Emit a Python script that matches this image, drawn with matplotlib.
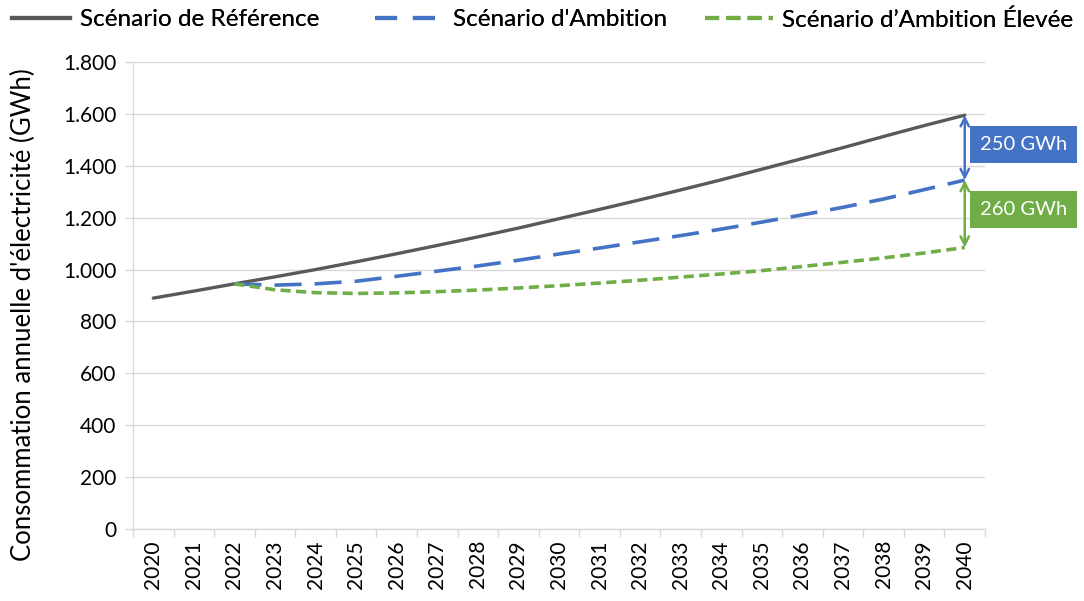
import numpy as np
import matplotlib
matplotlib.use("Agg")
from matplotlib import pyplot as plt
from matplotlib.lines import Line2D
from matplotlib.ticker import FuncFormatter, FixedLocator

years = [str(y) for y in range(2020, 2041)]

reference = [890, 917, 945, 972, 1000, 1030, 1061, 1093, 1126, 1160, 1196,
             1232, 1269, 1307, 1346, 1387, 1428, 1470, 1513, 1555, 1595]
# ambition scenarios branch off from the reference in 2022
ambition = [None, None, 945, 940, 945, 955, 974, 994, 1014, 1036, 1060,
            1083, 1107, 1131, 1156, 1183, 1211, 1240, 1272, 1308, 1345]
high_ambition = [None, None, 945, 922, 911, 908, 910, 915, 921, 929, 938,
                 948, 959, 971, 983, 996, 1012, 1028, 1045, 1064, 1085]

series_labels = ["Scénario de Référence", "Scénario d'Ambition",
                 "Scénario d\u2019Ambition Élevée"]
gap_labels = ["250 GWh", "260 GWh"]

GREY = "#595959"
BLUE = "#4472C4"
GREEN = "#70AD47"
GRID = "#D9D9D9"

plt.rcParams["font.family"] = ["Lato", "DejaVu Sans"]


def to_array(values):
    return np.array([np.nan if v is None else v for v in values], dtype=float)


fig = plt.figure(figsize=(10.84, 6.01), dpi=100)
ax = fig.add_axes([0.1227, 0.1198, 0.7860, 0.7770])

x = np.arange(len(years))
ax.plot(x, to_array(reference), color=GREY, lw=2.4, solid_capstyle="round",
        zorder=3)
ax.plot(x, to_array(ambition), color=BLUE, lw=2.6, dashes=(7.5, 3.6),
        dash_capstyle="butt", zorder=3)
ax.plot(x, to_array(high_ambition), color=GREEN, lw=2.6, dashes=(2.8, 1.5),
        dash_capstyle="butt", zorder=3)

ax.set_xlim(-0.5, len(years) - 0.5)
ax.set_ylim(0, 1800)
ax.yaxis.set_major_locator(FixedLocator(np.arange(0, 1801, 200)))
ax.yaxis.set_major_formatter(
    FuncFormatter(lambda v, _: f"{int(v):,}".replace(",", ".")))
ax.grid(axis="y", color=GRID, lw=1.0, zorder=0)
ax.set_axisbelow(True)

ax.set_xticks(x)
ax.set_xticklabels(years, rotation=90, fontsize=15)
ax.set_xticks(np.arange(-0.5, len(years)), minor=True)
ax.tick_params(axis="x", which="major", length=0, pad=8)
ax.tick_params(axis="x", which="minor", length=6, color=GRID, width=1)
ax.tick_params(axis="y", length=6, color=GRID, width=1, labelsize=15, pad=6)

for side in ["top", "right"]:
    ax.spines[side].set_visible(False)
for side in ["left", "bottom"]:
    ax.spines[side].set_color(GRID)
    ax.spines[side].set_linewidth(1.0)

ax.set_ylabel("Consommation annuelle d'électricité (GWh)", fontsize=18.5)
ax.yaxis.set_label_coords(-0.114, 0.46)

# gap arrows at the final year
last = len(years) - 1
ax.annotate("", xy=(last, reference[-1]), xytext=(last, ambition[-1]),
            arrowprops=dict(arrowstyle="<->", color=BLUE, lw=1.8,
                            mutation_scale=15, shrinkA=0, shrinkB=0),
            zorder=4)
ax.annotate("", xy=(last, ambition[-1]), xytext=(last, high_ambition[-1]),
            arrowprops=dict(arrowstyle="<->", color=GREEN, lw=1.8,
                            mutation_scale=15, shrinkA=0, shrinkB=0),
            zorder=4)

for label, color, yc in [(gap_labels[0], BLUE, 1481),
                         (gap_labels[1], GREEN, 1233)]:
    ax.text(last + 1.45, yc, label, color="white", fontsize=14.5,
            ha="center", va="center", clip_on=False, zorder=5,
            bbox=dict(boxstyle="square,pad=0.5", facecolor=color,
                      edgecolor="none"))

handles = [
    Line2D([], [], color=GREY, lw=3),
    Line2D([], [], color=BLUE, lw=3, dashes=(5.3, 3.8)),
    Line2D([], [], color=GREEN, lw=3, dashes=(3.4, 1.7)),
]
# one legend per entry, anchored where each entry starts in the figure
for handle, label, x0, hl in zip(handles, series_labels,
                                 [0.011, 0.346, 0.650], [2.4, 2.8, 2.8]):
    leg = fig.legend([handle], [label], loc="center left",
                     bbox_to_anchor=(x0, 0.967), frameon=False,
                     fontsize=17.5, handlelength=hl, handletextpad=0.4,
                     borderpad=0, borderaxespad=0)
    fig.add_artist(leg)

fig.savefig("out.png", dpi=100)
